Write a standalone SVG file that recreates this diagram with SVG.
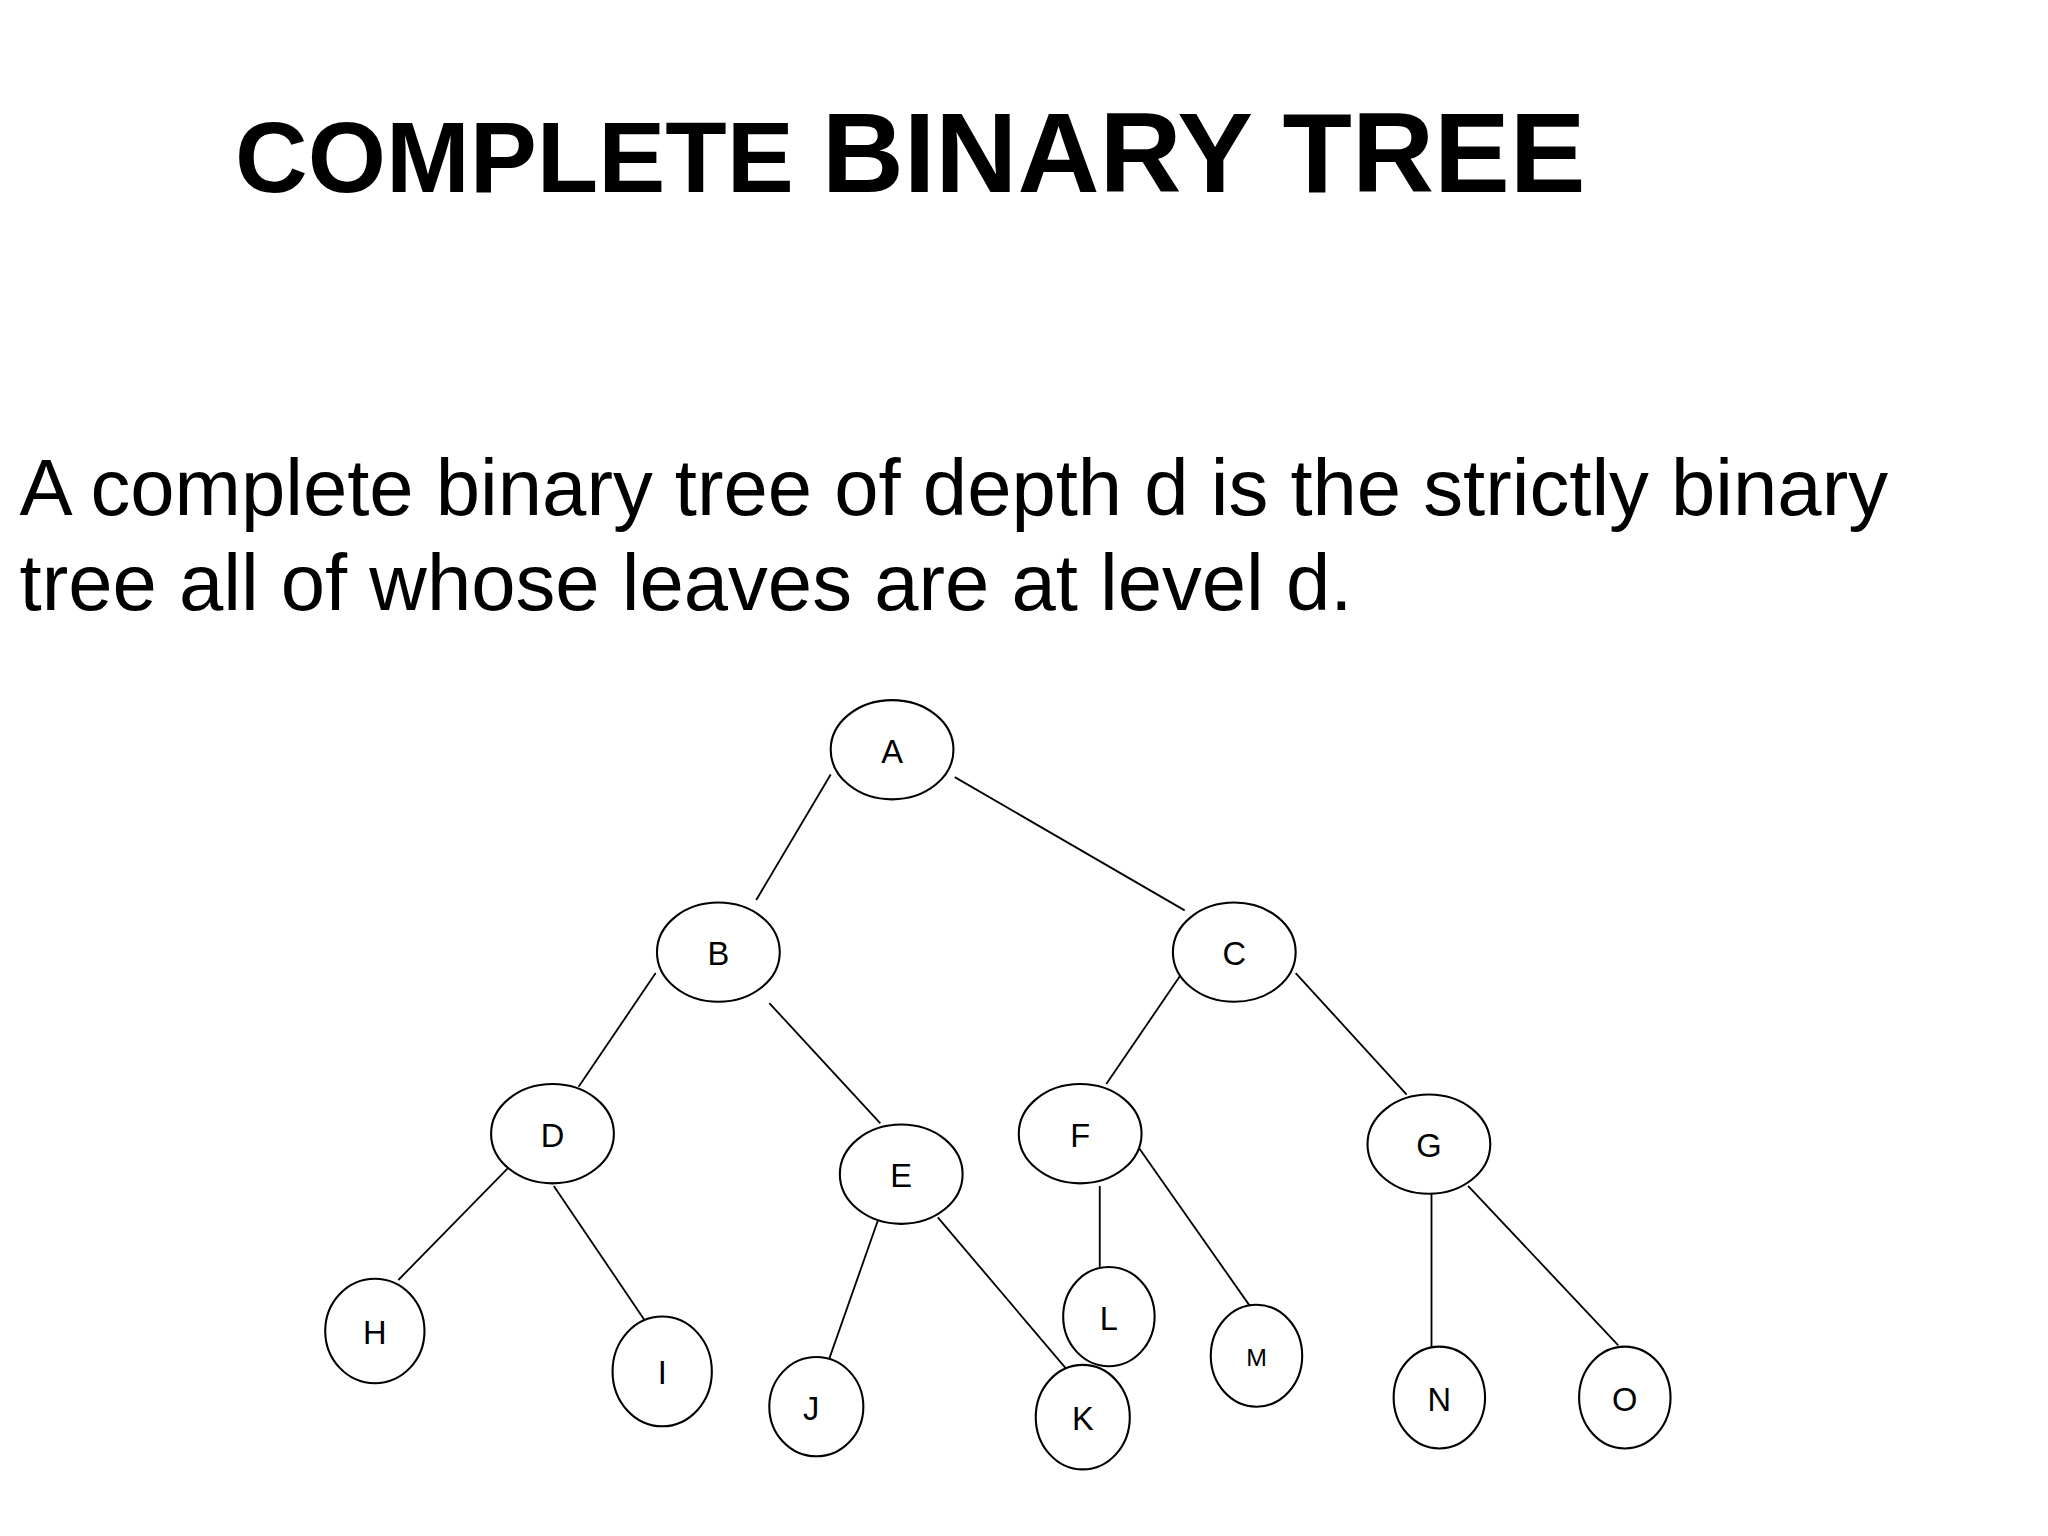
<svg xmlns="http://www.w3.org/2000/svg" width="2048" height="1536" viewBox="0 0 2048 1536">
<style>
text{font-family:"Liberation Sans",Arial,sans-serif;fill:#000}
.n ellipse{fill:#fff;stroke:#000;stroke-width:1.6}
.n text{font-size:25px;text-anchor:middle}
#edges line{stroke:#000;stroke-width:1.4}
</style>
<rect width="2048" height="1536" fill="#fff"/>
<g transform="scale(1.30612)">
<text x="180" y="147" font-weight="bold" font-size="77">COMPLETE <tspan font-size="87">BINARY TREE</tspan></text>
<text x="15" y="394" font-size="61">A complete binary tree of depth d is the strictly binary</text>
<text x="15" y="467" font-size="61">tree all of whose leaves are at level d.</text>
<g id="edges">
<line x1="636" y1="593" x2="579" y2="689"/>
<line x1="731" y1="595" x2="907" y2="697"/>
<line x1="502" y1="745" x2="443" y2="832"/>
<line x1="589" y1="768" x2="674" y2="860"/>
<line x1="905" y1="745" x2="847" y2="830"/>
<line x1="992" y1="745" x2="1077" y2="838"/>
<line x1="398" y1="885" x2="305" y2="980"/>
<line x1="424" y1="908" x2="493" y2="1010"/>
<line x1="673" y1="932" x2="635" y2="1040"/>
<line x1="718" y1="932" x2="818" y2="1050"/>
<line x1="842" y1="908" x2="842" y2="970"/>
<line x1="870" y1="876" x2="957" y2="1000"/>
<line x1="1096" y1="905" x2="1096" y2="1032"/>
<line x1="1124" y1="908" x2="1239" y2="1030"/>
</g>
<g id="A" class="n"><ellipse cx="683" cy="574" rx="47" ry="38"/><text x="683" y="584">A</text></g>
<g id="B" class="n"><ellipse cx="550" cy="729" rx="47" ry="38"/><text x="550" y="739">B</text></g>
<g id="C" class="n"><ellipse cx="945" cy="729" rx="47" ry="38"/><text x="945" y="739">C</text></g>
<g id="D" class="n"><ellipse cx="423" cy="868" rx="47" ry="38"/><text x="423" y="878">D</text></g>
<g id="E" class="n"><ellipse cx="690" cy="899" rx="47" ry="38"/><text x="690" y="909">E</text></g>
<g id="F" class="n"><ellipse cx="827" cy="868" rx="47" ry="38"/><text x="827" y="878">F</text></g>
<g id="G" class="n"><ellipse cx="1094" cy="876" rx="47" ry="38"/><text x="1094" y="886">G</text></g>
<g id="H" class="n"><ellipse cx="287" cy="1019" rx="38" ry="40"/><text x="287" y="1029">H</text></g>
<g id="I" class="n"><ellipse cx="507" cy="1050" rx="38" ry="42"/><text x="507" y="1060">I</text></g>
<g id="J" class="n"><ellipse cx="625" cy="1077" rx="36" ry="38"/><text x="621" y="1087">J</text></g>
<g id="K" class="n"><ellipse cx="829" cy="1085" rx="36" ry="40"/><text x="829" y="1095">K</text></g>
<g id="L" class="n"><ellipse cx="849" cy="1008" rx="35" ry="38"/><text x="849" y="1018">L</text></g>
<g id="M" class="n"><ellipse cx="962" cy="1038" rx="35" ry="39"/><text x="962" y="1046" style="font-size:19px">M</text></g>
<g id="N" class="n"><ellipse cx="1102" cy="1070" rx="35" ry="39"/><text x="1102" y="1080">N</text></g>
<g id="O" class="n"><ellipse cx="1244" cy="1070" rx="35" ry="39"/><text x="1244" y="1080">O</text></g>
</g>
</svg>
